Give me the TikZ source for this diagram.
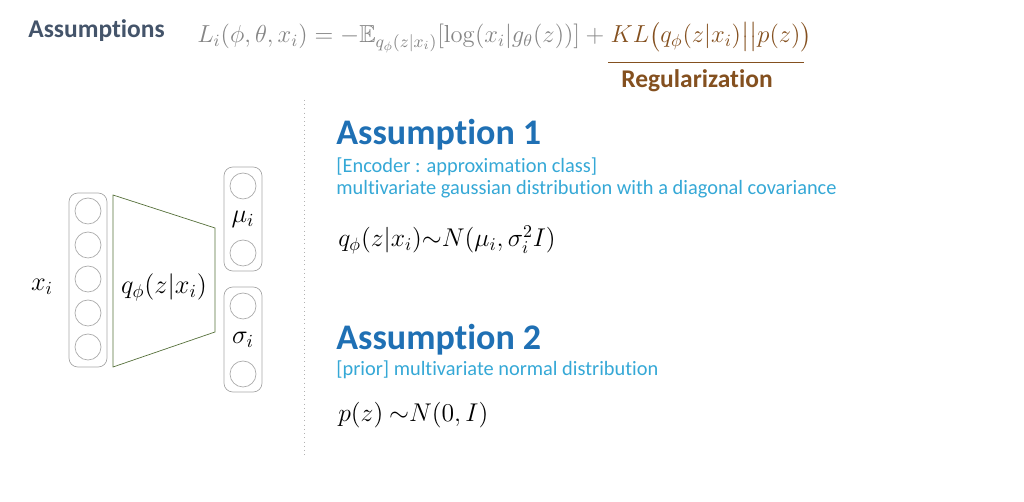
\RequirePackage{fix-cm}
\documentclass[tikz,border=0pt]{standalone}
\usepackage{amsmath}
\usepackage{amssymb}
\usepackage[no-math]{fontspec}
\setmainfont{Carlito}[Ligatures=NoCommon]
\usepackage{xcolor}
\usetikzlibrary{positioning}
\definecolor{slate}{HTML}{44546A}
\definecolor{headblue}{HTML}{1F70B4}
\definecolor{noteblue}{HTML}{35A8D6}
\definecolor{regbrown}{HTML}{84501F}
\definecolor{formgray}{HTML}{858585}
\definecolor{encgreen}{HTML}{56703A}
\tikzstyle{unit} = [circle, draw=gray!65, thin, minimum size=0.52cm, inner sep=0pt]
\tikzstyle{layer} = [rectangle, draw=gray!70, thin, rounded corners=5pt,
                     minimum width=0.76cm, inner sep=0pt]
\tikzstyle{heading} = [anchor=base west, inner sep=0pt, text=headblue,
                       font=\fontsize{20.5}{24}\selectfont\bfseries]
\tikzstyle{note} = [anchor=base west, inner sep=0pt, text=noteblue,
                    font=\fontsize{11.6}{13}\selectfont]
\tikzstyle{formula} = [anchor=base west, inner sep=0pt,
                       font=\fontsize{14}{16}\selectfont]
\tikzstyle{lbl} = [inner sep=0pt, font=\fontsize{15}{17}\selectfont]

\begin{document}
\begin{tikzpicture}[x=0.02cm, y=-0.02cm]
\useasboundingbox (0,0) rectangle (1024,502);
% title line
\node [anchor=base west, inner sep=0pt, text=slate,
	font=\fontsize{14.5}{16}\selectfont\bfseries] at (28,38) (title) {Assumptions};
\node [formula, text=formgray] at (197,43) (loss)
	{$L_i(\phi,\theta,x_i) = -\mathbb{E}_{q_\phi(z|x_i)}[\log(x_i|g_\theta(z))] +{}$};
\node [formula, text=regbrown] at (loss.base east) (kl)
	{$KL\bigl(q_\phi(z|x_i)\big|\big|p(z)\bigr)$};
\coordinate (reg_left) at (608,62);
\coordinate (reg_right) at (804,62);
\draw [regbrown, thin] (reg_left) -- (reg_right);
\node [anchor=base, inner sep=0pt, text=regbrown,
	font=\fontsize{14.5}{16}\selectfont\bfseries] at (697,88) (reg) {Regularization};
% separator
\coordinate (sep_top) at (304,100);
\coordinate (sep_bot) at (304,458);
\draw [gray!60, dotted] (sep_top) -- (sep_bot);
% encoder
\node [layer, minimum height=3.48cm] at (88,280) (input) {};
\foreach \y [count=\i] in {211,245,279,313,347}
	\node [unit] at (88,\y) (in\i) {};
\node [lbl] at (42,287) (xi) {$x_i$};
\draw [encgreen, thin] (113,195) -- (215,228) -- (215,332) -- (113,367) -- cycle;
\node [lbl] at (164,287) (enc) {$q_\phi(z|x_i)$};
\node [layer, minimum height=2.08cm] at (243,219) (mubox) {};
\node [unit] at (243,186) (mu1) {};
\node [unit] at (243,253) (mu2) {};
\node [lbl] at (243,219) (mu) {$\mu_i$};
\node [layer, minimum height=2.1cm] at (243,339.5) (sigmabox) {};
\node [unit] at (243,306) (sigma1) {};
\node [unit] at (243,374) (sigma2) {};
\node [lbl] at (243,340) (sigma) {$\sigma_i$};
% assumption 1
\node [heading] at (336,145) (a1) {Assumption 1};
\node [note] at (336,173) (a1_class) {[Encoder : approximation class]};
\node [note] at (336,195) (a1_desc)
	{multivariate gaussian distribution with a diagonal covariance};
\node [formula, font=\fontsize{14.6}{17}\selectfont] at (338,247) (a1_eq)
	{$q_\phi(z|x_i){\sim}N(\mu_i,\sigma_i^2 I)$};
% assumption 2
\node [heading] at (336,350) (a2) {Assumption 2};
\node [note] at (336,376) (a2_desc) {[prior] multivariate normal distribution};
\node [formula, font=\fontsize{14.6}{17}\selectfont] at (338,422) (a2_eq)
	{$p(z)\ {\sim}N(0,I)$};
\end{tikzpicture}
\end{document}
